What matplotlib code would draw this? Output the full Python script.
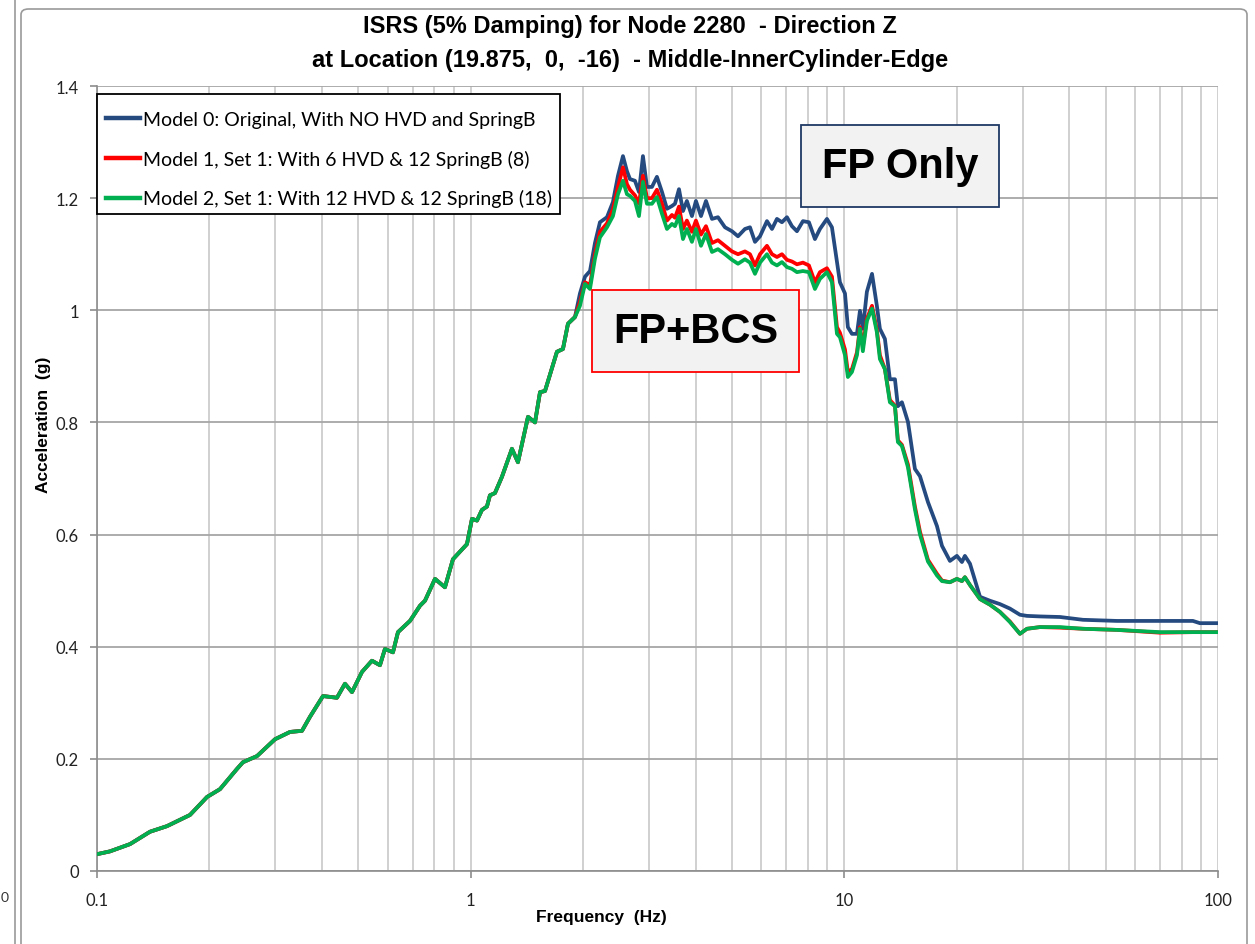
import matplotlib
matplotlib.use("Agg")
import matplotlib.pyplot as plt
from matplotlib.patches import FancyBboxPatch, Rectangle
from matplotlib.lines import Line2D
import numpy as np

# ---- data ----
# low-frequency part: all three models coincide
freq_low = [0.1, 0.1083, 0.1226, 0.1386, 0.1539, 0.1774, 0.197, 0.2134, 0.2369, 0.2458,
            0.2681, 0.2995, 0.3285, 0.3537, 0.3715, 0.4025, 0.4387, 0.4609, 0.4813, 0.5118,
            0.5443, 0.5718, 0.5897, 0.6195, 0.639, 0.688, 0.7316, 0.7546, 0.8027, 0.8535,
            0.8966, 0.9775, 1.0081, 1.0397, 1.072, 1.1056, 1.1262, 1.1614, 1.2126, 1.2896,
            1.3383, 1.4238, 1.4866, 1.5332, 1.581, 1.7018, 1.766, 1.8215, 1.9018]
acc_low = [0.03, 0.035, 0.048, 0.07, 0.08, 0.10, 0.132, 0.146, 0.182, 0.194,
           0.205, 0.235, 0.248, 0.25, 0.275, 0.312, 0.309, 0.334, 0.319, 0.355,
           0.375, 0.367, 0.396, 0.39, 0.426, 0.446, 0.473, 0.482, 0.521, 0.506,
           0.556, 0.583, 0.628, 0.625, 0.644, 0.65, 0.67, 0.674, 0.703, 0.753,
           0.729, 0.81, 0.80, 0.854, 0.856, 0.926, 0.931, 0.976, 0.988]

# high-frequency part: models diverge
freq_high = [1.961, 2.023, 2.086, 2.151, 2.218, 2.316, 2.403, 2.479, 2.556, 2.62,
             2.669, 2.752, 2.821, 2.891, 2.963, 3.056, 3.151, 3.251, 3.352, 3.457,
             3.522, 3.61, 3.70, 3.79, 3.91, 4.007, 4.134, 4.263, 4.424, 4.59,
             4.793, 5.004, 5.193, 5.42, 5.591, 5.766, 5.947, 6.208, 6.403, 6.602,
             6.808, 7.022, 7.241, 7.468, 7.749, 8.04, 8.343, 8.604, 8.983, 9.265,
             9.555, 9.732, 10.04, 10.22, 10.48, 10.81, 11.01, 11.21, 11.49, 11.86,
             12.22, 12.45, 12.84, 13.24, 13.66, 13.91, 14.26, 14.80, 15.45, 15.94,
             16.74, 17.70, 18.25, 19.17, 20.01, 20.64, 21.02, 21.69, 23.07, 24.53,
             26.09, 27.74, 29.51, 30.81, 33.38, 37.76, 43.50, 53.63, 69.90, 85.66,
             89.44, 100.0]
acc_model0 = [1.03, 1.06, 1.07, 1.12, 1.157, 1.166, 1.193, 1.24, 1.275, 1.248,
              1.234, 1.231, 1.211, 1.275, 1.22, 1.22, 1.238, 1.211, 1.181, 1.186,
              1.19, 1.216, 1.177, 1.195, 1.168, 1.195, 1.168, 1.195, 1.163, 1.166,
              1.148, 1.141, 1.132, 1.145, 1.148, 1.122, 1.132, 1.159, 1.145, 1.163,
              1.157, 1.166, 1.15, 1.141, 1.159, 1.157, 1.127, 1.145, 1.163, 1.148,
              1.086, 1.05, 1.03, 0.97, 0.958, 0.958, 0.999, 0.967, 1.033, 1.065,
              1.008, 0.967, 0.949, 0.877, 0.877, 0.829, 0.836, 0.801, 0.717, 0.704,
              0.658, 0.615, 0.58, 0.553, 0.562, 0.551, 0.562, 0.548, 0.489, 0.482,
              0.476, 0.468, 0.457, 0.455, 0.454, 0.453, 0.448, 0.446, 0.446, 0.446,
              0.442, 0.442]
acc_model1 = [1.015, 1.05, 1.045, 1.10, 1.14, 1.155, 1.18, 1.22, 1.255, 1.225,
              1.215, 1.205, 1.19, 1.24, 1.20, 1.20, 1.215, 1.19, 1.16, 1.17,
              1.165, 1.185, 1.145, 1.16, 1.14, 1.16, 1.135, 1.15, 1.12, 1.125,
              1.115, 1.105, 1.10, 1.105, 1.10, 1.08, 1.10, 1.115, 1.10, 1.095,
              1.10, 1.09, 1.087, 1.082, 1.085, 1.08, 1.05, 1.068, 1.075, 1.06,
              0.97, 0.96, 0.93, 0.89, 0.895, 0.925, 0.97, 0.935, 0.985, 1.008,
              0.965, 0.92, 0.895, 0.84, 0.83, 0.768, 0.76, 0.725, 0.65, 0.605,
              0.555, 0.53, 0.518, 0.515, 0.521, 0.517, 0.524, 0.51, 0.485, 0.475,
              0.462, 0.445, 0.423, 0.432, 0.435, 0.434, 0.432, 0.43, 0.425, 0.426,
              0.426, 0.426]
acc_model2 = [1.008, 1.047, 1.038, 1.092, 1.13, 1.148, 1.168, 1.207, 1.231, 1.207,
              1.204, 1.195, 1.168, 1.229, 1.19, 1.19, 1.202, 1.172, 1.145, 1.154,
              1.15, 1.168, 1.127, 1.145, 1.122, 1.145, 1.115, 1.136, 1.104, 1.109,
              1.10, 1.09, 1.083, 1.091, 1.085, 1.065, 1.085, 1.10, 1.085, 1.08,
              1.086, 1.077, 1.074, 1.068, 1.07, 1.068, 1.038, 1.056, 1.068, 1.05,
              0.958, 0.952, 0.92, 0.881, 0.89, 0.92, 0.967, 0.927, 0.981, 1.003,
              0.961, 0.913, 0.895, 0.836, 0.829, 0.765, 0.758, 0.72, 0.645, 0.60,
              0.552, 0.527, 0.517, 0.515, 0.521, 0.517, 0.524, 0.51, 0.485, 0.475,
              0.462, 0.444, 0.423, 0.432, 0.435, 0.435, 0.432, 0.43, 0.426, 0.426,
              0.426, 0.426]

labels = ["Model 0: Original, With NO HVD and SpringB",
          "Model 1, Set 1: With 6 HVD & 12 SpringB (8)",
          "Model 2, Set 1: With 12 HVD & 12 SpringB (18)"]
colors = ["#244a80", "#ff0000", "#00b050"]
title_lines = ["ISRS (5% Damping) for Node 2280  - Direction Z",
               "at Location (19.875,  0,  -16)  - Middle-InnerCylinder-Edge"]
yticks = [0, 0.2, 0.4, 0.6, 0.8, 1.0, 1.2, 1.4]
ytick_labels = ["0", "0.2", "0.4", "0.6", "0.8", "1", "1.2", "1.4"]
xticks = [0.1, 1, 10, 100]
xtick_labels = ["0.1", "1", "10", "100"]

# ---- figure ----
W, H = 1255, 945
fig = plt.figure(figsize=(W / 100, H / 100), dpi=100)
fig.patch.set_facecolor("white")

# outer chart frame and neighbour edge
fig.add_artist(FancyBboxPatch((21 / W, -0.05), (1247 - 21) / W, (940 - 5) / H + 0.05,
                              boxstyle="round,pad=0,rounding_size=0.006",
                              transform=fig.transFigure, fill=False,
                              edgecolor="#9a9a9a", lw=1.2))
fig.add_artist(Line2D([15 / W, 15 / W], [0, 1], transform=fig.transFigure,
                      color="#9a9a9a", lw=1.2))
fig.text(1 / W, 1 - 898 / H, "0", fontsize=10, family="Lato", va="center", ha="left",
         color="#333333")

ax = fig.add_axes([97 / W, 1 - 872 / H, (1218 - 97) / W, (872 - 87) / H])
ax.set_xscale("log")
ax.set_xlim(0.1, 100)
ax.set_ylim(0, 1.4)

f_all = list(freq_low) + list(freq_high)
series = [list(acc_low) + list(acc_model0),
          list(acc_low) + list(acc_model1),
          list(acc_low) + list(acc_model2)]
for s, c, lab in zip(series, colors, labels):
    ax.plot(f_all, s, color=c, lw=2.7, label=lab, solid_joinstyle="round", zorder=3)

ax.set_yticks(yticks)
ax.set_yticklabels(ytick_labels)
ax.set_xticks(xticks)
ax.set_xticklabels(xtick_labels)
ax.xaxis.set_minor_locator(matplotlib.ticker.LogLocator(base=10, subs=np.arange(2, 10)))
ax.xaxis.set_minor_formatter(matplotlib.ticker.NullFormatter())

ax.grid(True, which="major", axis="y", color="#a6a6a6", lw=1.3)
ax.grid(True, which="both", axis="x", color="#c8c8c8", lw=1.2)
ax.set_axisbelow(True)
for sp in ["top", "right"]:
    ax.spines[sp].set_visible(False)
for sp in ["left", "bottom"]:
    ax.spines[sp].set_color("#8c8c8c")
    ax.spines[sp].set_linewidth(1.2)
ax.tick_params(axis="both", which="major", length=5, color="#8c8c8c", width=1.2,
               labelsize=12)
ax.tick_params(axis="x", which="minor", length=0)
for t in ax.get_xticklabels() + ax.get_yticklabels():
    t.set_family("Lato")
    t.set_color("#222222")
ax.tick_params(axis="x", pad=10)
ax.tick_params(axis="y", pad=8)

ax.set_xlabel("Frequency  (Hz)", fontsize=12.5, fontweight="bold", family="Liberation Sans")
ax.xaxis.set_label_coords((601 - 97) / (1218 - 97), -(910 - 872) / (872 - 87))
ax.set_ylabel("Acceleration  (g)", fontsize=12.5, fontweight="bold", family="Liberation Sans")
ax.yaxis.set_label_coords(-(97 - 51) / (1218 - 97), (872 - 425) / (872 - 87))

fig.text(630 / W, 1 - 27 / H, title_lines[0], fontsize=17, fontweight="bold",
         family="Liberation Sans", ha="center", va="center")
fig.text(630 / W, 1 - 60 / H, title_lines[1], fontsize=17, fontweight="bold",
         family="Liberation Sans", ha="center", va="center")

# legend: frame drawn separately at the reference position
ax.add_patch(Rectangle((97 / W, 1 - 215 / H), (560 - 97) / W, (215 - 95) / H,
                       transform=fig.transFigure, facecolor="white",
                       edgecolor="black", lw=1.3, zorder=4, clip_on=False))
leg = ax.legend(loc="upper left", bbox_to_anchor=(0.0, (872 - 103) / (872 - 87)),
                frameon=False, prop={"family": "Lato", "size": 14.0}, handlelength=1.75,
                handletextpad=0.15, borderaxespad=0, labelspacing=1.12,
                borderpad=0.45)
leg.set_zorder(6)
for l in leg.get_lines():
    l.set_linewidth(3.2)

ax.text(14.1, 1.257, "FP Only", fontsize=30, fontweight="bold", family="Liberation Sans",
        ha="center", va="center", zorder=5,
        bbox=dict(boxstyle="square,pad=0.5", facecolor="#f2f2f2", edgecolor="#1f3864", lw=1.3))
ax.text(4.0, 0.963, "FP+BCS", fontsize=30, fontweight="bold", family="Liberation Sans",
        ha="center", va="center", zorder=5,
        bbox=dict(boxstyle="square,pad=0.5", facecolor="#f2f2f2", edgecolor="#ff0000", lw=1.3))

fig.savefig("out.png", dpi=100)
